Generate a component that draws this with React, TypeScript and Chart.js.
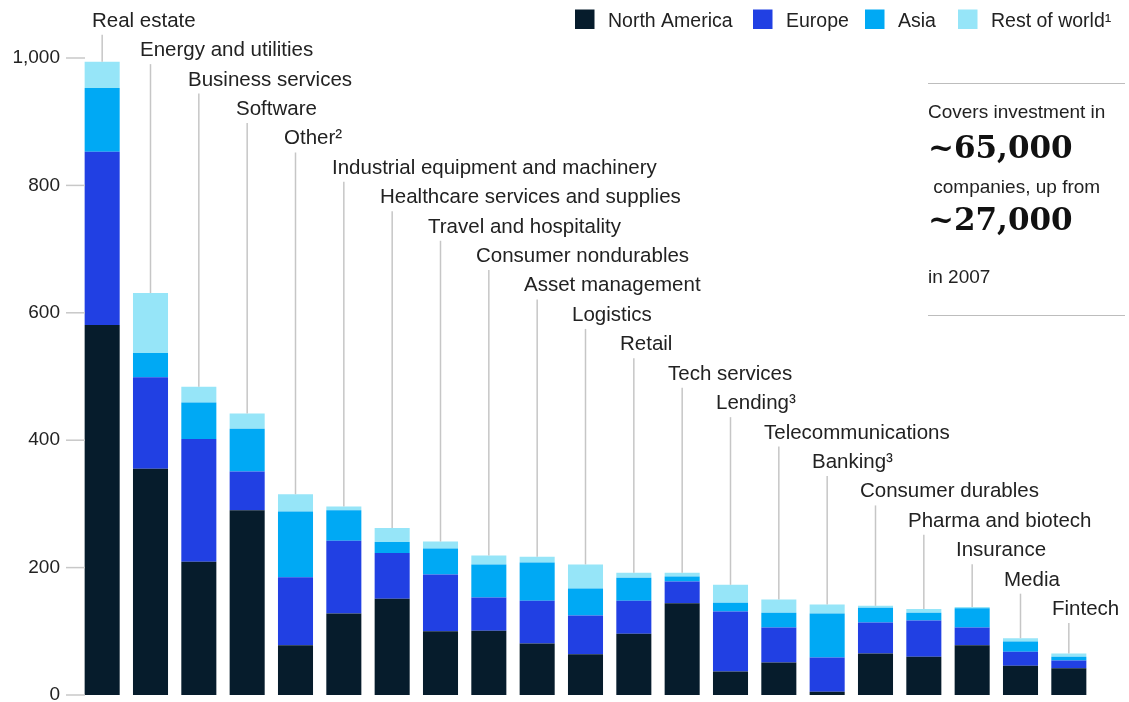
import React, { useEffect, useRef } from "react";
import { Chart, registerables } from "chart.js";

Chart.register(...registerables);

const categories = [
  "Real estate",
  "Energy and utilities",
  "Business services",
  "Software",
  "Other²",
  "Industrial equipment and machinery",
  "Healthcare services and supplies",
  "Travel and hospitality",
  "Consumer nondurables",
  "Asset management",
  "Logistics",
  "Retail",
  "Tech services",
  "Lending³",
  "Telecommunications",
  "Banking³",
  "Consumer durables",
  "Pharma and biotech",
  "Insurance",
  "Media",
  "Fintech",
];

const northAmerica = [581, 355, 209, 290, 78, 128, 151, 100, 101, 81, 64, 96, 144, 37, 51, 5, 65, 60, 78, 46, 42];
const europe = [272, 144, 193, 61, 107, 114, 72, 89, 52, 67, 61, 52, 34, 94, 55, 54, 49, 57, 28, 22, 12];
const asia = [100, 38, 57, 67, 103, 48, 17, 41, 52, 60, 42, 36, 8, 14, 23, 69, 23, 12, 30, 16, 6];
const restOfWorld = [41, 94, 25, 24, 27, 6, 22, 11, 14, 9, 38, 8, 6, 28, 21, 14, 3, 6, 2, 5, 5];

const seriesNames = ["North America", "Europe", "Asia", "Rest of world¹"];
const seriesColors = ["#061c2c", "#2140e3", "#00a9f4", "#96e5f8"];

const yTicks = [0, 200, 400, 600, 800, 1000];

const noteLines = [
  { text: "Covers investment in", big: false },
  { text: "~65,000", big: true },
  { text: " companies, up from", big: false },
  { text: "~27,000", big: true },
  { text: "in 2007", big: false },
];

const W = 1129;
const H = 702;
const SANS = '"Liberation Sans", Arial, sans-serif';
const SERIF = '"DejaVu Serif", serif';
const TEXT = "#222222";

const overlayPlugin = {
  id: "overlay",
  afterDraw(chart: any) {
    const { ctx } = chart;
    const x = chart.scales.x;
    const y = chart.scales.y;
    const ds = chart.data.datasets;
    ctx.save();

    // y tick marks
    ctx.strokeStyle = "#c8c8c8";
    ctx.lineWidth = 1.5;
    for (const v of yTicks) {
      const py = y.getPixelForValue(v);
      ctx.beginPath();
      ctx.moveTo(66, py);
      ctx.lineTo(85, py);
      ctx.stroke();
    }

    // leaders + category labels
    ctx.font = `20.5px ${SANS}`;
    ctx.fillStyle = TEXT;
    ctx.textBaseline = "alphabetic";
    ctx.textAlign = "left";
    categories.forEach((label, i) => {
      let total = 0;
      ds.forEach((d: any) => (total += d.data[i]));
      const cx = x.getPixelForValue(i);
      const top = y.getPixelForValue(total);
      const base = 26.7 + 29.42 * i;
      ctx.strokeStyle = "#c6c6c6";
      ctx.lineWidth = 1.5;
      ctx.beginPath();
      ctx.moveTo(cx, base + 8);
      ctx.lineTo(cx, top);
      ctx.stroke();
      ctx.fillText(label, 92 + 48 * i, base);
    });

    // legend
    const legendX = [575, 753, 865, 958];
    ctx.font = `19.5px ${SANS}`;
    ds.forEach((d: any, k: number) => {
      ctx.fillStyle = d.backgroundColor;
      ctx.fillRect(legendX[k], 9.5, 19.5, 19.5);
      ctx.fillStyle = TEXT;
      ctx.fillText(d.label, legendX[k] + 33, 26.5);
    });

    // note panel
    ctx.strokeStyle = "#bdbdbd";
    ctx.lineWidth = 1;
    ctx.beginPath();
    ctx.moveTo(928, 83.5);
    ctx.lineTo(1125, 83.5);
    ctx.moveTo(928, 315.5);
    ctx.lineTo(1125, 315.5);
    ctx.stroke();
    const baselines = [117.5, 158, 193, 230, 283];
    noteLines.forEach((ln, k) => {
      ctx.fillStyle = ln.big ? "#111111" : TEXT;
      ctx.font = ln.big ? `bold 31px ${SERIF}` : `19px ${SANS}`;
      ctx.fillText(ln.text, 928, baselines[k]);
    });

    ctx.restore();
  },
};

export default function App() {
  const canvasRef = useRef<HTMLCanvasElement | null>(null);

  useEffect(() => {
    const canvas = canvasRef.current;
    if (!canvas) return;
    const series = [northAmerica, europe, asia, restOfWorld];
    const chart = new Chart(canvas, {
      type: "bar",
      data: {
        labels: categories,
        datasets: series.map((data, k) => ({
          label: seriesNames[k],
          data,
          backgroundColor: seriesColors[k],
          borderWidth: 0,
          barPercentage: 0.725,
          categoryPercentage: 1,
        })),
      },
      options: {
        responsive: false,
        animation: false,
        devicePixelRatio: 1,
        layout: { padding: { top: 58, right: 36, bottom: 7, left: 0 } },
        plugins: {
          legend: { display: false },
          tooltip: { enabled: false },
        },
        scales: {
          x: { stacked: true, display: false, offset: true },
          y: {
            stacked: true,
            min: 0,
            max: 1000,
            afterFit: (s: any) => {
              s.width = 78;
              s.paddingTop = 0;
              s.paddingBottom = 0;
            },
            ticks: {
              stepSize: 200,
              padding: 18,
              color: TEXT,
              font: { family: SANS, size: 19 },
              callback: (v: any) => Number(v).toLocaleString("en-US"),
            },
            grid: { display: false, drawTicks: false },
            border: { display: false },
          },
        },
      },
      plugins: [overlayPlugin],
    });
    return () => chart.destroy();
  }, []);

  return (
    <div style={{ position: "absolute", left: 0, top: 0, width: W, height: H, background: "#fff" }}>
      <canvas ref={canvasRef} width={W} height={H} style={{ display: "block", width: W, height: H }} />
    </div>
  );
}
